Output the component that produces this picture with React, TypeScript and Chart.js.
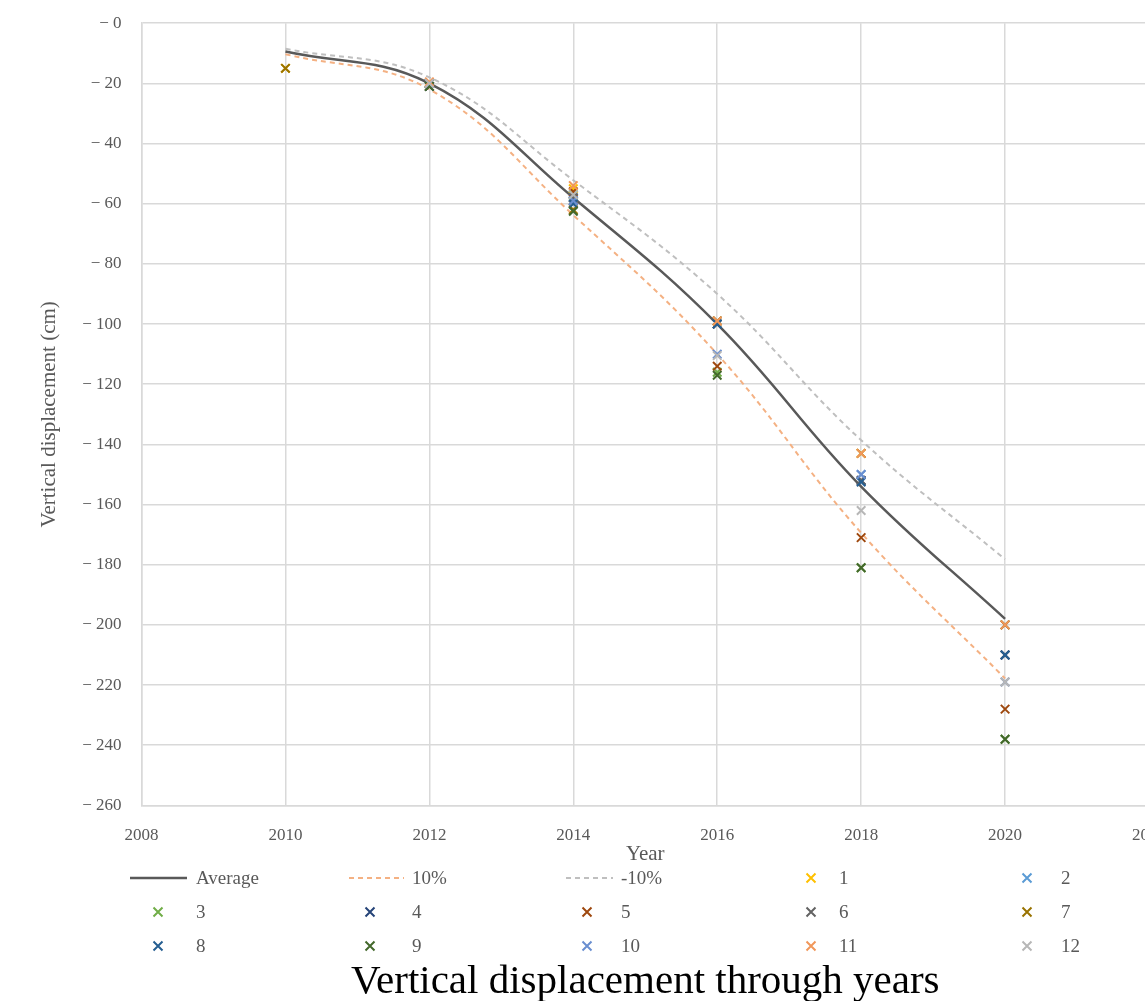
import React, { useEffect, useRef } from "react";
import { Chart, registerables } from "chart.js";

Chart.register(...registerables);

const years = [2010, 2012, 2014, 2016, 2018, 2020];
const averageValues = [-9.4, -20, -58, -100, -154, -198];
const plus10Values = [-10.3, -22, -63.8, -110, -169.4, -217.8];
const minus10Values = [-8.5, -18, -52.2, -90, -138.6, -178.2];

const pointNames = ["1", "2", "3", "4", "5", "6", "7", "8", "9", "10", "11", "12"];
const pointValues: (number | null)[][] = [
  [-15, -20, -55, -99, -143, -200],
  [null, -20, -58, -99, -150, -200],
  [null, -21, -57, -116, -181, -238],
  [null, -20, -59, -100, -152, -210],
  [null, -21, -56, -114, -171, -228],
  [null, -20, -58, -100, -152, -210],
  [-15, -20, -62, -99, -143, -200],
  [null, -21, -60, -100, -152.5, -210],
  [null, -21, -62.5, -117, -181, -238],
  [null, -20, -59, -110, -150, -219],
  [null, -19.5, -54, -99, -143, -200],
  [null, -20, -57, -110.5, -162, -219],
];
const pointColors = [
  "#FFC000", "#5B9BD5", "#70AD47", "#264478", "#9E480E", "#636363",
  "#997300", "#255E91", "#43682B", "#698ED0", "#F1975A", "#B7B7B7",
];

const lineNames = ["Average", "10%", "-10%"];
const lineColors = ["#595959", "#F4B183", "#BFBFBF"];
const lineDashes = [[], [5, 4], [5, 4]];
const lineWidths = [2.5, 2, 2];

const chartTitle = "Vertical displacement through years";
const xTitle = "Year";
const yTitle = "Vertical displacement (cm)";

const FONT = "'Liberation Serif', 'DejaVu Serif', serif";
const TEXT_GRAY = "#595959";
const TOP_SHIFT = 7;

export default function App() {
  const ref = useRef<HTMLCanvasElement | null>(null);

  useEffect(() => {
    if (!ref.current) return;
    const lineSets = [averageValues, plus10Values, minus10Values].map((vals, i) => ({
      type: "line" as const,
      label: lineNames[i],
      data: years.map((x, j) => ({ x, y: vals[j] })),
      borderColor: lineColors[i],
      backgroundColor: lineColors[i],
      borderDash: lineDashes[i],
      borderWidth: lineWidths[i],
      pointRadius: 0,
      tension: 0.4,
      fill: false,
      order: 20 - i,
    }));
    const pointSets = pointValues.map((vals, i) => ({
      type: "line" as const,
      label: pointNames[i],
      data: years
        .map((x, j) => ({ x, y: vals[j] }))
        .filter((p) => p.y !== null),
      borderColor: pointColors[i],
      backgroundColor: pointColors[i],
      showLine: false,
      pointStyle: "crossRot" as const,
      pointRadius: 6,
      pointBorderWidth: 2,
      order: 12 - i,
    }));

    const legendPlugin = {
      id: "gridLegend",
      afterDraw(chart: any) {
        const ctx = chart.ctx;
        const lineStart = [130, 349, 566];
        const lineEnd = [187, 404, 613];
        const markerX = [158, 370, 587, 811, 1027];
        const textX = [196, 412, 621, 839, 1061];
        const rowY = [878, 912, 946].map((v) => v + TOP_SHIFT);
        const items: { kind: "line" | "pt"; idx: number; label: string }[] = [];
        lineNames.forEach((n, i) => items.push({ kind: "line", idx: i, label: n }));
        pointNames.forEach((n, i) => items.push({ kind: "pt", idx: i, label: n }));
        ctx.save();
        ctx.font = `19px ${FONT}`;
        ctx.textBaseline = "middle";
        ctx.textAlign = "left";
        items.forEach((it, k) => {
          const col = k % 5;
          const row = Math.floor(k / 5);
          const y = rowY[row];
          if (it.kind === "line") {
            ctx.beginPath();
            ctx.strokeStyle = lineColors[it.idx];
            ctx.lineWidth = lineWidths[it.idx];
            ctx.setLineDash(lineDashes[it.idx]);
            ctx.moveTo(lineStart[col], y);
            ctx.lineTo(lineEnd[col], y);
            ctx.stroke();
            ctx.setLineDash([]);
          } else {
            const cx = markerX[col];
            const r = 4.5;
            ctx.beginPath();
            ctx.strokeStyle = pointColors[it.idx];
            ctx.lineWidth = 2;
            ctx.moveTo(cx - r, y - r);
            ctx.lineTo(cx + r, y + r);
            ctx.moveTo(cx + r, y - r);
            ctx.lineTo(cx - r, y + r);
            ctx.stroke();
          }
          ctx.fillStyle = TEXT_GRAY;
          ctx.fillText(it.label, textX[col], y + 1);
        });
        ctx.restore();
      },
    };

    const chart = new Chart(ref.current, {
      type: "line",
      data: { datasets: [...lineSets, ...pointSets] as any },
      options: {
        animation: false,
        responsive: false,
        layout: { padding: { left: 37, top: 1, right: 0, bottom: 0 } },
        plugins: {
          legend: { display: false },
          tooltip: { enabled: false },
          title: {
            display: true,
            text: chartTitle,
            position: "bottom",
            fullSize: false,
            color: "#000000",
            font: { family: FONT, size: 41, weight: "normal", lineHeight: 1 },
            padding: { top: 95, bottom: -2 },
          },
        },
        scales: {
          x: {
            type: "linear",
            min: 2008,
            max: 2022,
            ticks: {
              stepSize: 2,
              color: TEXT_GRAY,
              padding: 20,
              font: { family: FONT, size: 17 },
              callback: (v: any) => String(v),
            },
            grid: { color: "#D9D9D9", lineWidth: 1.5, drawTicks: false },
            border: { color: "#D9D9D9", width: 1.5 },
            title: {
              display: true,
              text: xTitle,
              color: TEXT_GRAY,
              font: { family: FONT, size: 21 },
              padding: { top: -24, bottom: 0 },
            },
          },
          y: {
            type: "linear",
            min: -260,
            max: 0,
            ticks: {
              stepSize: 20,
              color: TEXT_GRAY,
              padding: 20,
              font: { family: FONT, size: 17 },
              callback: (v: any) => "\u2212 " + Math.abs(Number(v)),
            },
            grid: { color: "#D9D9D9", lineWidth: 1.5, drawTicks: false },
            border: { color: "#D9D9D9", width: 1.5 },
            title: {
              display: true,
              text: yTitle,
              color: TEXT_GRAY,
              font: { family: FONT, size: 21 },
              padding: { top: 0, bottom: 0 },
            },
          },
        },
      },
      plugins: [legendPlugin],
    } as any);
    return () => chart.destroy();
  }, []);

  return (
    <div
      style={{
        position: "fixed",
        left: 0,
        top: 0,
        width: 1145,
        height: 1001,
        overflow: "hidden",
        background: "#ffffff",
      }}
    >
      <canvas
        ref={ref}
        width={1186}
        height={1001 + TOP_SHIFT}
        style={{ display: "block", marginTop: -TOP_SHIFT }}
      />
    </div>
  );
}
